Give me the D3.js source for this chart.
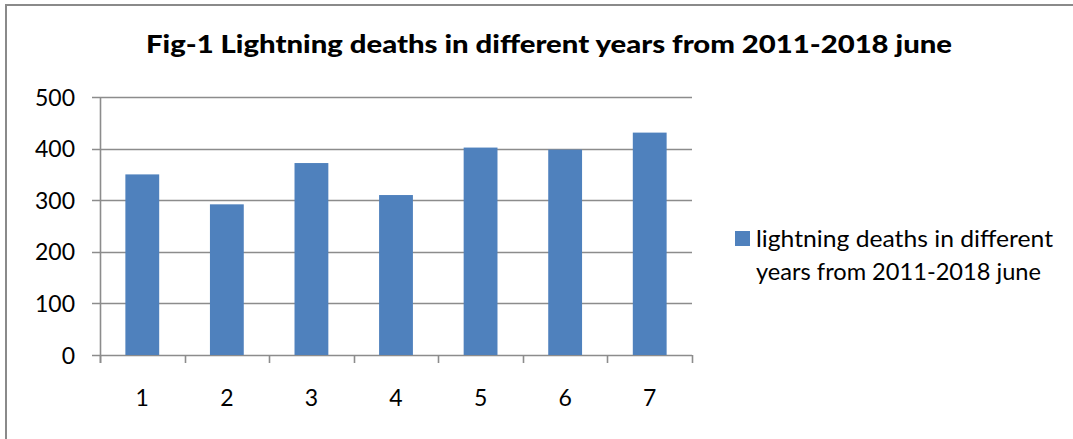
<!DOCTYPE html>
<html>
<head>
<meta charset="utf-8">
<script src="https://cdn.jsdelivr.net/npm/d3@7"></script>
<style>
  html, body { margin: 0; padding: 0; background: #fff; overflow: hidden; }
  svg { display: block; }
</style>
</head>
<body>
<svg id="chart" width="1073" height="439"></svg>
<script>
const categories = ["1", "2", "3", "4", "5", "6", "7"];
const values = [350, 292, 372, 310, 402, 398, 431];
const yTicks = [0, 100, 200, 300, 400, 500];
const titleText = "Fig-1 Lightning deaths in different years from 2011-2018 june";
const legendLines = ["lightning deaths in different", "years from 2011-2018 june"];

(function () {
const svg = d3.select("#chart");
const font = "Lato, 'Open Sans', sans-serif";
const grid = "#8c8c8c";
const barColor = "#4f81bd";

// outer border (top and left edges visible)
svg.append("line").attr("x1", 6).attr("x2", 6).attr("y1", 4).attr("y2", 439)
  .attr("stroke", "#8a8a8a").attr("stroke-width", 2);
svg.append("line").attr("x1", 5).attr("x2", 1073).attr("y1", 5).attr("y2", 5)
  .attr("stroke", "#8a8a8a").attr("stroke-width", 2);

const pLeft = 100, pRight = 692, pTop = 97, pBottom = 355;

const x = d3.scaleBand().domain(categories).range([pLeft, pRight]).paddingInner(0.6).paddingOuter(0.3);
const xb = d3.scaleBand().domain(categories).range([pLeft, pRight]);
const y = d3.scaleLinear().domain([0, 500]).range([pBottom, pTop]);

// gridlines
svg.append("g").selectAll("line").data(yTicks).join("line")
  .attr("x1", pLeft - 8).attr("x2", pRight)
  .attr("y1", d => Math.round(y(d)) + 0.5).attr("y2", d => Math.round(y(d)) + 0.5)
  .attr("stroke", grid).attr("stroke-width", 1.6);

// y axis line
svg.append("line")
  .attr("x1", pLeft + 0.5).attr("x2", pLeft + 0.5).attr("y1", pTop).attr("y2", pBottom + 8)
  .attr("stroke", grid).attr("stroke-width", 1.6);

// x ticks at band boundaries
const bounds = categories.map(c => xb(c)).concat([pRight]);
svg.append("g").selectAll("line").data(bounds).join("line")
  .attr("x1", d => Math.round(d) + 0.5).attr("x2", d => Math.round(d) + 0.5)
  .attr("y1", pBottom).attr("y2", pBottom + 8)
  .attr("stroke", grid).attr("stroke-width", 1.6);

// bars
svg.append("g").selectAll("rect").data(values).join("rect")
  .attr("x", (d, i) => x(categories[i]))
  .attr("width", x.bandwidth())
  .attr("y", d => y(d))
  .attr("height", d => pBottom - y(d))
  .attr("fill", barColor);

// y tick labels
svg.append("g").selectAll("text").data(yTicks).join("text")
  .attr("x", 75).attr("y", d => y(d) + 8.5)
  .attr("text-anchor", "end")
  .attr("font-family", font).attr("font-size", 23).attr("fill", "#000")
  .text(d => d);

// x tick labels
svg.append("g").selectAll("text").data(categories).join("text")
  .attr("x", d => xb(d) + xb.bandwidth() / 2).attr("y", 406)
  .attr("text-anchor", "middle")
  .attr("font-family", font).attr("font-size", 23).attr("fill", "#000")
  .text(d => d);

// title
svg.append("text")
  .attr("x", 146).attr("y", 53)
  .attr("font-family", font).attr("font-weight", 900).attr("font-size", 25.5)
  .attr("textLength", 806).attr("lengthAdjust", "spacingAndGlyphs")
  .attr("fill", "#000")
  .text(titleText);

// legend
svg.append("rect")
  .attr("x", 735).attr("y", 231).attr("width", 15).attr("height", 15)
  .attr("fill", barColor);
svg.append("text").attr("x", 756).attr("y", 247)
  .attr("font-family", font).attr("font-size", 23).attr("fill", "#000")
  .attr("textLength", 297).attr("lengthAdjust", "spacingAndGlyphs")
  .text(legendLines[0]);
svg.append("text").attr("x", 756).attr("y", 280)
  .attr("font-family", font).attr("font-size", 23).attr("fill", "#000")
  .attr("textLength", 285).attr("lengthAdjust", "spacingAndGlyphs")
  .text(legendLines[1]);
})();
</script>
</body>
</html>
